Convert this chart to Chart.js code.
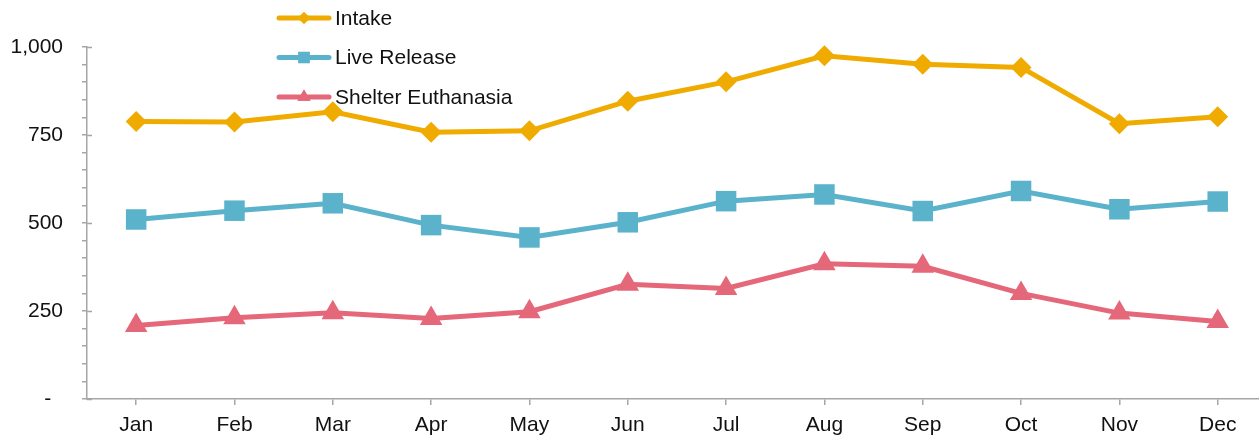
<!DOCTYPE html>
<html>
<head>
<meta charset="utf-8">
<script src="https://cdn.jsdelivr.net/npm/chart.js@4"></script>
<style>
  html, body { margin: 0; padding: 0; background: #ffffff; overflow: hidden; }
  canvas { display: block; }
</style>
</head>
<body>
<canvas id="c" width="1259" height="435"></canvas>
<script>
// ---- data ----
const months = ['Jan','Feb','Mar','Apr','May','Jun','Jul','Aug','Sep','Oct','Nov','Dec'];
const intake = [788, 787, 816, 758, 762, 846, 901, 975, 951, 942, 782, 802];
const liveRelease = [510, 535, 556, 494, 459, 502, 562, 581, 534, 591, 539, 561];
const shelterEuthanasia = [209, 231, 245, 229, 248, 326, 314, 384, 377, 300, 244, 220];
const seriesNames = ['Intake', 'Live Release', 'Shelter Euthanasia'];
const yTickLabels = ['-  ', '250', '500', '750', '1,000']; // at 0,250,500,750,1000

const FONT = '"Liberation Sans", Arial, Helvetica, sans-serif';
const AXIS = '#a6a6a6';
const colors = ['#F0AB00', '#5BB2CB', '#E5677A'];
const styles = ['rectRot', 'rect', 'triangle'];
const radii = [10.5, 14.5, 13];
const legendRadii = [6, 8, 7.5];

function pts(arr) { return arr.map((v, i) => ({ x: i, y: v })); }

const datasets = [intake, liveRelease, shelterEuthanasia].map((arr, k) => ({
  label: seriesNames[k],
  data: pts(arr),
  borderColor: colors[k],
  backgroundColor: colors[k],
  borderWidth: 5,
  pointStyle: styles[k],
  pointRadius: radii[k],
  pointHoverRadius: radii[k],
  pointBackgroundColor: colors[k],
  pointBorderColor: colors[k],
  pointBorderWidth: 0,
  tension: 0,
  fill: false,
  clip: false
}));

// major y ticks cross the axis line into the plot
const majorTickPlugin = {
  id: 'majorTicks',
  afterDraw(chart) {
    const y = chart.scales.y, ctx = chart.ctx;
    ctx.save();
    ctx.strokeStyle = AXIS;
    ctx.lineWidth = 1.5;
    y.ticks.forEach(t => {
      if (t.value % 250 !== 0) return;
      const py = Math.round(y.getPixelForValue(t.value)) + 0.5;
      ctx.beginPath();
      ctx.moveTo(y.right, py);
      ctx.lineTo(y.right + 5, py);
      ctx.stroke();
    });
    ctx.restore();
  }
};

const legendPlugin = {
  id: 'customLegend',
  afterDraw(chart) {
    const ctx = chart.ctx;
    const x0 = 279, x1 = 329, tx = 335, y0 = 18, gap = 39.5;
    chart.data.datasets.forEach((ds, i) => {
      const y = y0 + i * gap;
      ctx.save();
      ctx.strokeStyle = ds.borderColor;
      ctx.lineWidth = 5;
      ctx.lineCap = 'round';
      ctx.beginPath();
      ctx.moveTo(x0, y);
      ctx.lineTo(x1, y);
      ctx.stroke();
      ctx.fillStyle = ds.borderColor;
      ctx.strokeStyle = ds.borderColor;
      ctx.lineWidth = 0.01;
      Chart.helpers.drawPoint(ctx, { pointStyle: ds.pointStyle, radius: legendRadii[i], rotation: 0, borderWidth: 0 }, (x0 + x1) / 2, y);
      ctx.fill();
      ctx.fillStyle = '#111111';
      ctx.font = '21px ' + FONT;
      ctx.textBaseline = 'middle';
      ctx.textAlign = 'left';
      ctx.fillText(ds.label, tx, y + 1);
      ctx.restore();
    });
  }
};

new Chart(document.getElementById('c'), {
  type: 'line',
  data: { datasets },
  plugins: [majorTickPlugin, legendPlugin],
  options: {
    responsive: false,
    animation: false,
    devicePixelRatio: 1,
    layout: { autoPadding: false, padding: { top: 47, right: 0, bottom: 0, left: 0 } },
    plugins: { legend: { display: false }, tooltip: { enabled: false } },
    scales: {
      x: {
        type: 'linear',
        min: -0.5,
        max: 11.42,
        afterBuildTicks(axis) { axis.ticks = months.map((_, i) => ({ value: i })); },
        afterFit(axis) { axis.height = 36; axis.paddingLeft = 0; axis.paddingRight = 0; },
        ticks: {
          autoSkip: false,
          maxRotation: 0,
          padding: 8,
          color: '#111111',
          font: { family: FONT, size: 21 },
          callback: (v) => months[v]
        },
        grid: { display: true, drawOnChartArea: false, drawTicks: true, tickLength: 6, color: AXIS, lineWidth: 1.5 },
        border: { display: true, color: AXIS, width: 1.5 }
      },
      y: {
        min: 0,
        max: 1000,
        afterFit(axis) { axis.width = 87; axis.paddingLeft = 0; axis.paddingRight = 0; },
        ticks: {
          stepSize: 50,
          autoSkip: false,
          padding: 19,
          color: '#111111',
          font: { family: FONT, size: 21 },
          callback: (v) => (v % 250 === 0 ? yTickLabels[v / 250] : '')
        },
        grid: { display: true, drawOnChartArea: false, drawTicks: true, tickLength: 5, color: AXIS, lineWidth: 1.5 },
        border: { display: true, color: AXIS, width: 1.5 }
      }
    }
  }
});
</script>
</body>
</html>
